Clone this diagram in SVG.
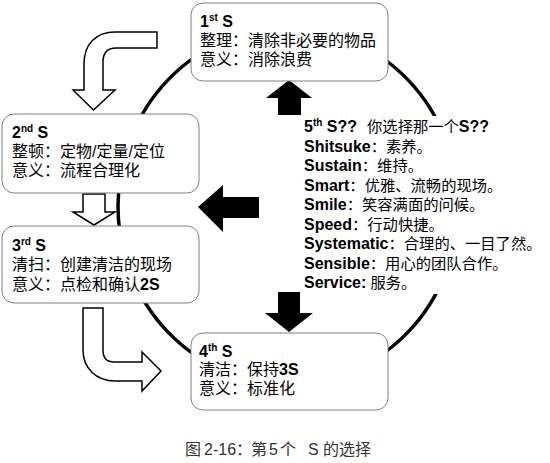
<svg xmlns="http://www.w3.org/2000/svg" width="550" height="463" viewBox="0 0 550 463">
<style>
.box{fill:#fff;stroke:#808080;stroke-width:1}
.t{font-family:"Liberation Sans","Noto Sans CJK SC",sans-serif;font-size:16px;fill:#000}
.r{font-size:15.3px}
.b{font-weight:bold}
.e{font-size:16px;font-weight:bold}
.sup{font-size:10px;font-weight:bold}
.wa{fill:#fff;stroke:#000;stroke-width:1.5;stroke-linejoin:miter}
.ba{fill:#000}
.cap{font-family:"Liberation Sans","Noto Sans CJK SC",sans-serif;font-size:16px;fill:#333}
</style>
<rect width="550" height="463" fill="#fff"/>
<g id="connectors">
<ellipse cx="288" cy="206" rx="170" ry="178" fill="none" stroke="#000" stroke-width="3.5"/>
<rect x="300" y="116" width="250" height="178" fill="#fff"/>
<path class="wa" d="M157,32 L115,32 C96,32 84,44 84,64 L84,90 L73,90 L93.5,110 L115,90 L103,90 L103,62 C103,53 107,48 116,48 L157,48 Z"/>
<path class="wa" d="M83,194 L105,194 L105,212 L115,212 L94,225 L73,212 L83,212 Z"/>
<path class="wa" d="M83,308 L103,308 L103,350 C103,358 107,362 114,362 L142,362 L142,352 L161,371 L142,391 L142,381 L115,381 C96,381 83,368 83,350 Z"/>
<path class="ba" d="M289,80 L312,98 L301,98 L301,115 L278,115 L278,98 L266,98 Z"/>
<path class="ba" d="M278,292 L300,292 L300,313 L313,313 L289,332 L265,313 L278,313 Z"/>
<path class="ba" d="M198,207 L223,185 L223,197 L259,197 L259,218 L223,218 L223,232 Z"/>
</g>
<g id="node1">
<rect class="box" x="191" y="3" width="197" height="78" rx="12"/>
<text class="t" x="200" y="27"><tspan class="b">1</tspan><tspan class="sup" dy="-6">st</tspan><tspan class="b" dy="6"> S</tspan></text>
<text class="t" x="200" y="46">整理：清除非必要的物品</text>
<text class="t" x="200" y="65">意义：消除浪费</text>
</g>
<g id="node2">
<rect class="box" x="2" y="114" width="197" height="79" rx="12"/>
<text class="t" x="12" y="138"><tspan class="b">2</tspan><tspan class="sup" dy="-6">nd</tspan><tspan class="b" dy="6"> S</tspan></text>
<text class="t" x="12" y="157">整顿：定物/定量/定位</text>
<text class="t" x="12" y="176">意义：流程合理化</text>
</g>
<g id="node3">
<rect class="box" x="2" y="226" width="197" height="77" rx="12"/>
<text class="t" x="12" y="251"><tspan class="b">3</tspan><tspan class="sup" dy="-6">rd</tspan><tspan class="b" dy="6"> S</tspan></text>
<text class="t" x="12" y="270">清扫：创建清洁的现场</text>
<text class="t" x="12" y="290">意义：点检和确认<tspan class="b">2S</tspan></text>
</g>
<g id="node4">
<rect class="box" x="191" y="333" width="197" height="77" rx="12"/>
<text class="t" x="199" y="357"><tspan class="b">4</tspan><tspan class="sup" dy="-6">th</tspan><tspan class="b" dy="6"> S</tspan></text>
<text class="t" x="199" y="375">清洁：保持<tspan class="b">3S</tspan></text>
<text class="t" x="199" y="394">意义：标准化</text>
</g>
<g id="node5">
<text class="t r" x="304" y="132"><tspan class="e">5</tspan><tspan class="sup" dy="-6">th</tspan><tspan class="e" dy="6"> S??</tspan><tspan dx="10">你选择那一个</tspan><tspan class="e">S??</tspan></text>
<text class="t r" x="304" y="151.5"><tspan class="e">Shitsuke</tspan>：素养。</text>
<text class="t r" x="304" y="171"><tspan class="e">Sustain</tspan>：维持。</text>
<text class="t r" x="304" y="190.5"><tspan class="e">Smart</tspan>：优雅、流畅的现场。</text>
<text class="t r" x="304" y="210"><tspan class="e">Smile</tspan>：笑容满面的问候。</text>
<text class="t r" x="304" y="229.5"><tspan class="e">Speed</tspan>：行动快捷。</text>
<text class="t r" x="304" y="249"><tspan class="e">Systematic</tspan>：合理的、一目了然。</text>
<text class="t r" x="304" y="268.5"><tspan class="e">Sensible</tspan>：用心的团队合作。</text>
<text class="t r" x="304" y="288"><tspan class="e">Service:</tspan> 服务。</text>
</g>
<text class="cap" y="455"><tspan x="185">图</tspan><tspan x="204">2-16：</tspan><tspan x="251">第</tspan><tspan x="269">5</tspan><tspan x="280">个</tspan><tspan x="308">S</tspan><tspan x="323">的选择</tspan></text>
</svg>
